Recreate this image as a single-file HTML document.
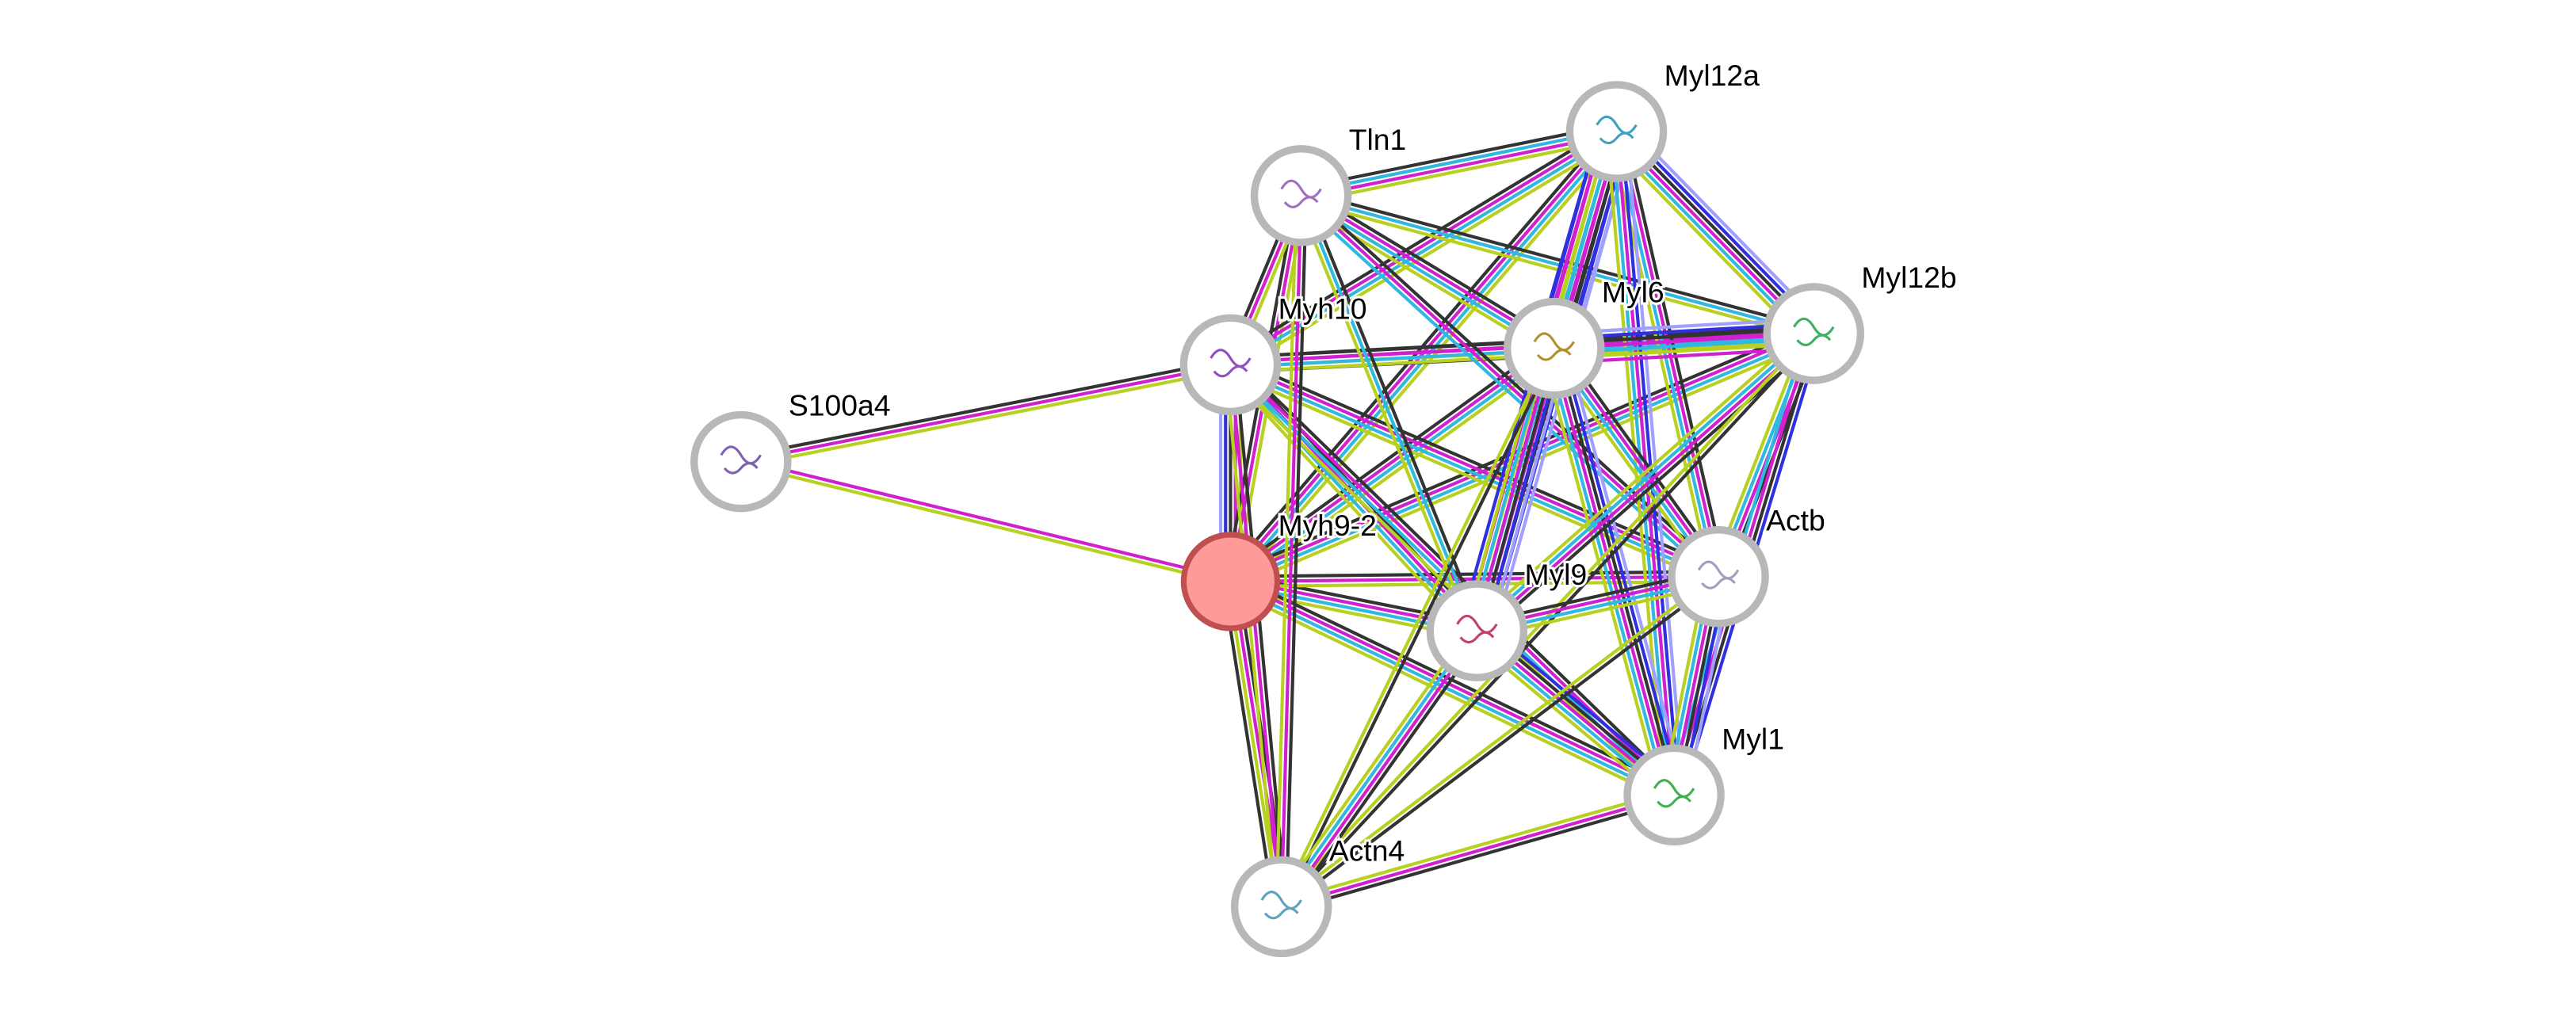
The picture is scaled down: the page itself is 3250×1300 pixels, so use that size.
<!DOCTYPE html>
<html><head><meta charset="utf-8">
<style>
html,body{margin:0;padding:0;background:#fff;}
svg{display:block;}
text{font-family:"Liberation Sans",sans-serif;font-size:18px;fill:#000;}
</style></head>
<body>
<svg id="g" width="3250" height="1300" viewBox="0 0 1568 627" xmlns="http://www.w3.org/2000/svg">
<g id="edges"></g>
<g id="nodes"></g>
</svg>
<script>
var N={
S100a4:[451,281],Myh10:[749,222],Tln1:[792,119],Myl12a:[984,80],Myl6:[946,212],
Myl12b:[1104,203],Myh9:[749,354],Myl9:[899,384],Actb:[1046,351],Myl1:[1019,484],Actn4:[780,552]};
var LB='#a0a0ff',B='#3030e0',K='#333333',M='#d020d0',C='#30b8e0',Y='#b8d020';
var E=[
['S100a4','Myh10',[K,M,Y]],['S100a4','Myh9',[M,Y]],
['Myh9','Myh10',[LB,B,K,M,Y]],['Myh9','Tln1',[K,M,Y]],['Myh9','Myl12a',[K,M,C,Y]],
['Myh9','Myl6',[K,M,C,Y]],['Myh9','Myl12b',[K,M,C,Y]],['Myh9','Myl9',[K,M,C,Y]],
['Myh9','Actb',[K,M,Y]],['Myh9','Myl1',[K,M,C,Y]],['Myh9','Actn4',[K,M,Y,K]],
['Myh10','Tln1',[K,M,Y]],['Myh10','Myl12a',[K,M,C,Y]],['Myh10','Myl6',[K,M,Y,K]],
['Myh10','Myl12b',[K,M,C,Y]],['Myh10','Myl9',[K,M,C,Y]],['Myh10','Actb',[K,M,C,Y]],
['Myh10','Myl1',[K,M,C,Y]],['Myh10','Actn4',[K,M,Y]],
['Tln1','Myl12a',[K,C,M,Y]],['Tln1','Myl6',[K,M,C,Y]],['Tln1','Myl12b',[K,C,Y]],
['Tln1','Myl9',[K,C,Y]],['Tln1','Actb',[K,M,C]],['Tln1','Actn4',[K,M,Y]],
['Myl12a','Myl6',[LB,B,K,M,C,Y,M,B]],['Myl12a','Myl12b',[LB,B,K,M,C,Y]],
['Myl12a','Myl9',[LB,B,K,M,C,Y,M,B]],['Myl12a','Actb',[K,M,C,Y]],['Myl12a','Myl1',[LB,B,M,C,Y]],
['Myl6','Myl12b',[LB,B,K,M,C,Y,M]],['Myl6','Myl9',[LB,B,K,M,C,Y]],['Myl6','Actb',[K,M,C,Y]],
['Myl6','Myl1',[LB,B,K,M,C,Y]],['Myl6','Actn4',[K,Y]],
['Myl12b','Myl9',[K,M,C,Y]],['Myl12b','Actb',[K,M,C,Y]],['Myl12b','Myl1',[B,K,M,C]],
['Myl12b','Actn4',[K,Y]],
['Myl9','Actb',[K,M,C,Y]],['Myl9','Myl1',[B,K,M,C,Y]],['Myl9','Actn4',[K,M,C,Y]],
['Actb','Myl1',[LB,B,K,M,C,Y]],['Actb','Actn4',[K,Y]],
['Myl1','Actn4',[K,M,Y]]
];
var eg=document.getElementById('edges'),s='';
E.forEach(function(e){
 var a=N[e[0]],b=N[e[1]],c=e[2],dx=b[0]-a[0],dy=b[1]-a[1],L=Math.hypot(dx,dy),px=-dy/L,py=dx/L,n=c.length,sp=3;
 c.forEach(function(col,i){var o=(i-(n-1)/2)*sp;
  s+='<line x1="'+(a[0]+px*o)+'" y1="'+(a[1]+py*o)+'" x2="'+(b[0]+px*o)+'" y2="'+(b[1]+py*o)+'" stroke="'+col+'" stroke-width="2"/>';});
});
eg.innerHTML=s;
var lab={S100a4:'S100a4',Myh10:'Myh10',Tln1:'Tln1',Myl12a:'Myl12a',Myl6:'Myl6',Myl12b:'Myl12b',Myh9:'Myh9-2',Myl9:'Myl9',Actb:'Actb',Myl1:'Myl1',Actn4:'Actn4'};
var dec={S100a4:'#8060b0',Myh10:'#9050c0',Tln1:'#a070c0',Myl12a:'#40a0c0',Myl6:'#b09030',Myl12b:'#40b060',Myl9:'#c04070',Actb:'#a0a0c0',Myl1:'#40b050',Actn4:'#60a0c0'};
var t='';
for(var k in N){var p=N[k];
 if(k=='Myh9'){t+='<circle cx="'+p[0]+'" cy="'+p[1]+'" r="28.5" fill="#ff9a9a" stroke="#c05050" stroke-width="3.5"/>';}
 else{t+='<circle cx="'+p[0]+'" cy="'+p[1]+'" r="28.5" fill="#fff" stroke="#b8b8b8" stroke-width="4.5"/>';
  t+='<path d="M'+(p[0]-12)+' '+(p[1]-4)+' q6 -10 12 0 t12 0 M'+(p[0]-10)+' '+(p[1]+4)+' q5 6 10 0 t10 0" fill="none" stroke="'+dec[k]+'" stroke-width="1.5"/>';}
 t+='<text x="'+(p[0]+29)+'" y="'+(p[1]-28)+'" stroke="#fff" stroke-width="3" paint-order="stroke">'+lab[k]+'</text>';
}
document.getElementById('nodes').innerHTML=t;
</script>
</body></html>
